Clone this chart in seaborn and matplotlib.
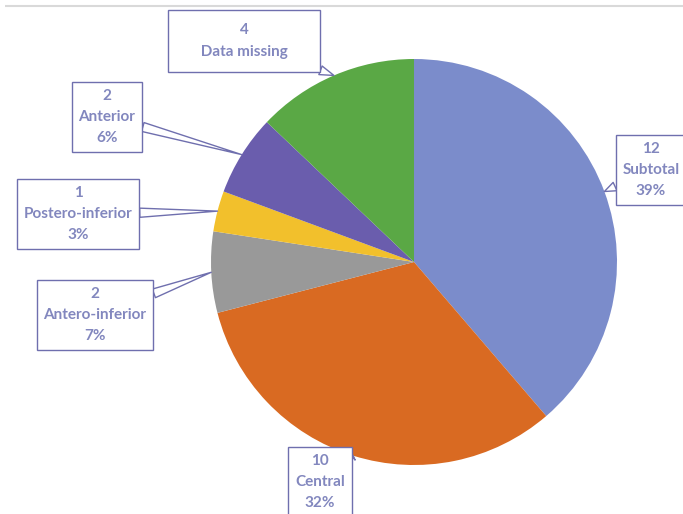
import numpy as np
import matplotlib
matplotlib.use("Agg")
import matplotlib.pyplot as plt
import seaborn as sns

categories = ["Subtotal", "Central", "Antero-inferior", "Postero-inferior", "Anterior", "Data missing"]
counts = [12, 10, 2, 1, 2, 4]
percent_labels = ["39%", "32%", "7%", "3%", "6%", ""]
colors = ["#7B8CCB", "#D96A22", "#999999", "#F2C02C", "#6A5DAD", "#5AA845"]

# label box centers (pixel layout)
label_pos = {
    "Subtotal": (651, 170),
    "Central": (320, 482),
    "Antero-inferior": (95, 315),
    "Postero-inferior": (78, 214),
    "Anterior": (107, 117),
    "Data missing": (244, 41),
}

sns.set_theme(style="white")
plt.rcParams['font.family'] = ['Lato', 'DejaVu Sans']

W, H = 683, 514
fig = plt.figure(figsize=(W / 100, H / 100), dpi=100)
ax = fig.add_axes([0, 0, 1, 1])
cx, cy, R = 414, H - 262, 203

wedges, _ = ax.pie(counts, colors=sns.color_palette(colors), startangle=90,
                   counterclock=False, center=(cx, cy), radius=R,
                   wedgeprops=dict(linewidth=0))
ax.set_xlim(0, W)
ax.set_ylim(0, H)
ax.set_aspect('equal')
ax.axis('off')

# top border line
ax.plot([5, W], [H - 5.5, H - 5.5], color="#D9D9D9", lw=1.5, solid_capstyle='butt')

txt_color = "#8287BE"
edge_color = "#6F6FAE"
for w, cat, n, p in zip(wedges, categories, counts, percent_labels):
    ang = np.deg2rad((w.theta1 + w.theta2) / 2)
    px, py = cx + R * np.cos(ang), cy + R * np.sin(ang)
    lx, ly = label_pos[cat]
    if cat == "Data missing":
        text = f"{n}\n     {cat}     "
        pad = 0.9
    else:
        text = f"{n}\n{cat}\n{p}"
        pad = 0.45
    ax.annotate(text, xy=(px, py), xytext=(lx, H - ly), ha='center', va='center',
                fontsize=11, fontweight='bold', color=txt_color, linespacing=1.65,
                bbox=dict(boxstyle=f"square,pad={pad}", fc="white", ec=edge_color, lw=1.0),
                arrowprops=dict(arrowstyle="wedge,tail_width=0.6,shrink_factor=0.5",
                                fc="white", ec=edge_color, lw=1.0,
                                shrinkA=0, shrinkB=0))

fig.savefig("out.png", dpi=100, facecolor="white")
